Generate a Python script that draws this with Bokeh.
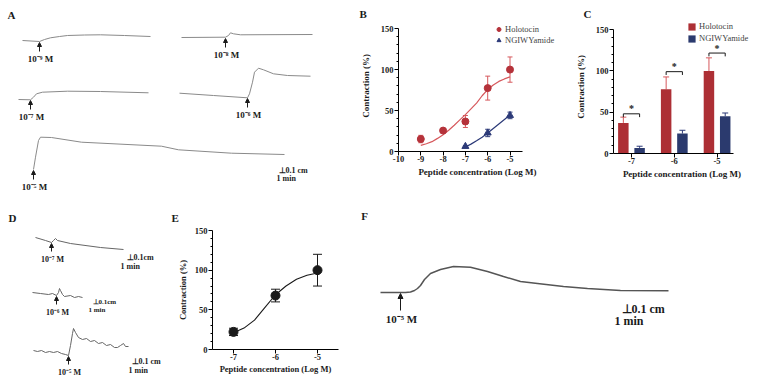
from bokeh.plotting import figure
from bokeh.layouts import row, column
from bokeh.models import (Range1d, ColumnDataSource, Arrow, NormalHead, Whisker, TeeHead,
                          FixedTicker, Legend, LegendItem, CustomJSTickFormatter)
from bokeh.core.properties import value
from bokeh.embed import file_html
from bokeh.resources import INLINE

SERIF = "Liberation Serif"
INK = "#1a1a1a"
HOLO = "#b5323a"
HOLO_LINE = "#d6585c"
NGIW = "#2c3a78"
HOLO_BAR = "#ad2f35"
NGIW_BAR = "#2b3a6e"

# ---------------- Panel B data ----------------
b_ticks = [-10, -9, -8, -7, -6, -5]
b_conc = [-9, -8, -7, -6, -5]
b_holo = [15.2, 25.5, 36.6, 77.3, 99.9]
b_holo_err = [4.5, 1.5, 7.3, 14.6, 15.4]
b_ngiw_conc = [-7, -6, -5]
b_ngiw = [6.2, 22.6, 44.0]
b_ngiw_err = [1.0, 4.5, 4.0]
b_holo_fit_x = [-9, -8.75, -8.5, -8.25, -8, -7.75, -7.5, -7.25, -7, -6.75, -6.5, -6.25, -6, -5.75, -5.5, -5.25, -5]
b_holo_fit_y = [7.5, 9.5, 12, 16, 20.5, 26, 32, 38.5, 45, 52, 59, 68, 75.5, 81, 85.5, 88.5, 91]
b_ngiw_fit_x = [-7, -6.75, -6.5, -6.25, -6, -5.75, -5.5, -5.25, -5]
b_ngiw_fit_y = [5.5, 9, 13, 17.5, 22.5, 28, 33.5, 39, 44.5]

# ---------------- Panel C data ----------------
c_conc = [-7, -6, -5]
c_holo = [37, 77.6, 99.7]
c_holo_err = [7, 15, 16]
c_ngiw = [6.8, 24.1, 45]
c_ngiw_err = [2, 4, 4]
c_sig = [48, 99, 121.5]

# ---------------- Panel E data ----------------
e_conc = [-7, -6, -5]
e_mean = [22.2, 68, 100]
e_err = [4.6, 8, 20]
e_fit_x = [-7, -6.75, -6.5, -6.25, -6, -5.75, -5.5, -5.25, -5]
e_fit_y = [21, 27, 37, 53, 69, 80, 88.5, 93.5, 96.4]

y_major = [0, 50, 100, 150]
y_minor = [10, 20, 30, 40, 60, 70, 80, 90, 110, 120, 130, 140]

# ---------------- Trace data (time offset px, deflection px; relative to injection) ----------------
a_labels = ["10⁻⁹ M", "10⁻⁸ M", "10⁻⁷ M", "10⁻⁶ M", "10⁻⁵ M"]
a_t = [
    [-17, 0, 5, 11, 20, 28, 45, 61, 85, 111],
    [-44, 0, 3, 5, 8, 15, 87],
    [-12, 0, 3, 6, 12, 37, 70, 118],
    [-68, -34, 0, 2, 5, 7, 11, 16, 26, 40, 63],
    [0, 2, 5, 7, 18, 48, 128, 145, 198, 251],
]
a_v = [
    [1, 0, 2, 3.7, 5, 6, 6.5, 6.7, 6, 5],
    [0, 0.3, 2, 4.7, 3.7, 2.7, 3],
    [0, -0.3, 2.3, 5.7, 7.3, 8.3, 8, 6.7],
    [4.3, 2, -0.3, 3.7, 15.3, 25.3, 29.3, 27.7, 23.7, 22, 21.3],
    [0, 12.3, 29, 32.3, 32, 27.3, 23.3, 19.7, 16.3, 15],
]
d_labels = ["10⁻⁷ M", "10⁻⁶ M", "10⁻⁵ M"]
d_t = [
    [-16, -6, 0, 2, 4, 6, 19, 49, 72],
    [-24, -16, -8, -4, 0, 2, 3, 4, 6, 8, 14, 18, 22, 26],
    [-35, -31, -27, -23, -19, -15, -11, -7, -3, 0, 2, 4, 5, 7, 10, 14, 18, 22, 26, 30, 34, 38, 42, 46, 49, 52, 55, 57, 60],
]
d_v = [
    [5, 2, 0, 2, 4, 2, -1, -5, -7],
    [3, 2, 1, 2, 0, 3, 7, 5, 1, -1, 0, -2, -1, -2],
    [5, 4, 5, 3, 4, 3, 4, 2, 1, 0, 10, 22, 27, 23, 18, 16, 17, 14, 15, 12, 13, 10, 11, 8, 8, 10, 12, 9, 9],
]
f_label = "10⁻⁵ M"
f_t = [-20, 0, 5, 10, 14, 17, 20, 24, 30, 40, 53, 70, 87, 103, 120, 137, 163, 187, 220, 268]
f_v = [0, 0, 0, 0.5, 2, 4, 7, 13, 19, 23, 26, 25.3, 21, 16, 11, 9, 6, 4, 2, 1.7]

# layout: injection points (px)
a_anchor = [(39, 41), (225, 37), (30, 99), (247, 97), (33, 169)]
d_anchor = [(51, 242), (56, 295), (68, 355)]
f_anchor = (400, 292)

ROW1 = 194
ROW2 = 182


def trace_fig(w, h, x0, x1, y0, y1):
    p = figure(width=w, height=h, x_range=Range1d(x0, x1), y_range=Range1d(y1, y0),
               output_backend="svg", toolbar_location=None, min_border=0,
               x_axis_type=None, y_axis_type=None, frame_align=False)
    p.grid.visible = False
    p.outline_line_color = None
    return p


def txt(p, xs, ys, texts, size, align="left", bold=True, color=INK):
    p.text(x=xs, y=ys, text=texts, text_font=value(SERIF), text_font_size=size,
           text_font_style="bold" if bold else "normal", text_align=align,
           text_baseline="middle", text_color=color)


def traces(p, ts, vs, anchors, labels, color, lw, lab_dy, tail_dy, lab_size, head):
    for t, v, (ax, ay) in zip(ts, vs, anchors):
        p.line([ax + ti for ti in t], [ay - vi for vi in v], line_color=color, line_width=lw)
    src = ColumnDataSource(dict(x=[a[0] for a in anchors],
                                y0=[a[1] + tail_dy for a in anchors],
                                y1=[a[1] + 1 for a in anchors]))
    p.add_layout(Arrow(source=src, x_start="x", y_start="y0", x_end="x", y_end="y1",
                       line_color=INK, line_width=1,
                       end=NormalHead(size=head, fill_color=INK, line_color=INK)))
    txt(p, [a[0] + 1 for a in anchors], [a[1] + lab_dy for a in anchors], labels, lab_size, align="center")


# ---------------- Panel A ----------------
pA = trace_fig(350, ROW1, 0, 350, 0, ROW1)
traces(pA, a_t, a_v, a_anchor, a_labels, "#8a8a8a", 1, 17, 10, "9px", 4)
txt(pA, [11], [14], ["A"], "11px", align="center")
txt(pA, [278, 276], [170, 177.5], ["⊥0.1 cm", "1 min"], "8px")

# ---------------- Panel D ----------------
pD = trace_fig(165, ROW2, 0, 165, ROW1, ROW1 + ROW2)
traces(pD, d_t, d_v, d_anchor, d_labels, "#666666", 1, 17, 9, "8px", 4)
txt(pD, [12], [217], ["D"], "11px", align="center")
txt(pD, [126, 120, 92, 88, 131, 128], [257, 266, 301, 309, 361, 370],
    ["⊥0.1cm", "1 min", "⊥0.1cm", "1 min", "⊥0.1 cm", "1 min"],
    ["8px", "8px", "7px", "7px", "8px", "8px"])

# ---------------- Panel F ----------------
pF = trace_fig(390, ROW2, 360, 750, ROW1, ROW1 + ROW2)
traces(pF, [f_t], [f_v], [f_anchor], [f_label], "#555555", 1.5, 26, 18, "11px", 5)
txt(pF, [364], [215], ["F"], "11px", align="center")
txt(pF, [621, 614], [308, 320], ["⊥0.1 cm", "1 min"], "12px")


def style_axes(p, xlab_size="9px", tick_size="8.5px", xstand=2, ystand=7):
    for ax in p.axis:
        ax.axis_line_color = "black"
        ax.major_tick_line_color = "black"
        ax.minor_tick_line_color = "black"
        ax.major_tick_out = 4
        ax.major_tick_in = 0
        ax.minor_tick_out = 2
        ax.minor_tick_in = 0
        ax.major_label_text_font = SERIF
        ax.major_label_text_font_style = "bold"
        ax.major_label_text_font_size = tick_size
        ax.major_label_text_color = INK
        ax.axis_label_text_font = SERIF
        ax.axis_label_text_font_style = "bold"
        ax.axis_label_text_font_size = xlab_size
        ax.axis_label_text_color = INK
        ax.formatter = CustomJSTickFormatter(code="return tick.toString();")
    p.xaxis.major_label_standoff = 0
    p.yaxis.major_label_standoff = 1
    p.xaxis.axis_label_standoff = xstand
    p.yaxis.axis_label_standoff = ystand
    p.xaxis.minor_tick_line_color = None
    p.yaxis.ticker = FixedTicker(ticks=y_major, minor_ticks=y_minor)
    p.yaxis.bounds = (0, 150)
    p.grid.visible = False
    p.outline_line_color = None


def letter(p, t, offset, standoff):
    p.title.text = t
    p.title.align = "left"
    p.title.offset = offset
    p.title.standoff = standoff
    p.title.text_font = SERIF
    p.title.text_font_style = "bold"
    p.title.text_font_size = "11px"
    p.title.text_color = INK


# ---------------- Panel B ----------------
# frame: x 398..556 px, y 20..151 px ; axis 0..150 spans 151..28 px, -10 at 398, 22.3 px per log unit
B_TOP, B_BOT, B_Y150 = 20, 151, 28
b_ymax = 150 + (B_Y150 - B_TOP) * 150 / (B_BOT - B_Y150)
pB = figure(width=210, height=ROW1, x_range=Range1d(-10, -10 + 158 / 22.3), y_range=Range1d(0, b_ymax),
            output_backend="svg", toolbar_location=None, frame_align=False,
            min_border_left=48, min_border_right=4, min_border_top=B_TOP, min_border_bottom=ROW1 - B_BOT,
            x_axis_label="Peptide concentration (Log M)", y_axis_label="Contraction (%)")
style_axes(pB)
pB.xaxis.ticker = FixedTicker(ticks=b_ticks)
pB.xaxis.bounds = (-10, -4.45)
pB.line(b_holo_fit_x, b_holo_fit_y, line_color=HOLO_LINE, line_width=1.2)
pB.line(b_ngiw_fit_x, b_ngiw_fit_y, line_color=NGIW, line_width=1.2)
srcBh = ColumnDataSource(dict(x=b_conc, y=b_holo,
                              lo=[m - e for m, e in zip(b_holo, b_holo_err)],
                              hi=[m + e for m, e in zip(b_holo, b_holo_err)]))
srcBn = ColumnDataSource(dict(x=b_ngiw_conc, y=b_ngiw,
                              lo=[m - e for m, e in zip(b_ngiw, b_ngiw_err)],
                              hi=[m + e for m, e in zip(b_ngiw, b_ngiw_err)]))
pB.add_layout(Whisker(source=srcBh, base="x", lower="lo", upper="hi", line_color=HOLO_LINE,
                      upper_head=TeeHead(size=5, line_color=HOLO_LINE),
                      lower_head=TeeHead(size=5, line_color=HOLO_LINE)))
pB.add_layout(Whisker(source=srcBn, base="x", lower="lo", upper="hi", line_color=NGIW,
                      upper_head=TeeHead(size=5, line_color=NGIW),
                      lower_head=TeeHead(size=5, line_color=NGIW)))
rBh = pB.scatter("x", "y", source=srcBh, marker="circle", size=7, fill_color=HOLO, line_color=HOLO)
rBn = pB.scatter("x", "y", source=srcBn, marker="triangle", size=7, fill_color=NGIW, line_color=NGIW)
pB.add_layout(Legend(items=[LegendItem(label="Holotocin", renderers=[rBh]),
                            LegendItem(label="NGIWYamide", renderers=[rBn])],
                     location=(95, 106), glyph_width=11, glyph_height=10, label_standoff=1,
                     padding=0, margin=0, spacing=1, border_line_color=None, background_fill_alpha=0,
                     label_text_font=SERIF, label_text_font_size="8.5px", label_height=10))
letter(pB, "B", -39, 1)

# ---------------- Panel C ----------------
# frame: x 613..750 px, y 20..153 px ; -7 at 631 px, 42.8 px per unit
C_TOP, C_BOT, C_Y150 = 20, 153, 29
c_ymax = 150 + (C_Y150 - C_TOP) * 150 / (C_BOT - C_Y150)
pC = figure(width=190, height=ROW1, x_range=Range1d(-7.42, -7.42 + 137 / 42.8), y_range=Range1d(0, c_ymax),
            output_backend="svg", toolbar_location=None, frame_align=False,
            min_border_left=53, min_border_right=0, min_border_top=C_TOP, min_border_bottom=ROW1 - C_BOT,
            x_axis_label="Peptide concentration (Log M)", y_axis_label="Contraction (%)")
style_axes(pC)
pC.xaxis.ticker = FixedTicker(ticks=c_conc)
pC.xaxis.bounds = (-7.42, -4.62)
xr = [c - 0.19 for c in c_conc]
xb = [c + 0.19 for c in c_conc]
rCh = pC.vbar(x=xr, top=c_holo, width=0.245, bottom=0, fill_color=HOLO_BAR, line_color=None)
rCn = pC.vbar(x=xb, top=c_ngiw, width=0.245, bottom=0, fill_color=NGIW_BAR, line_color=None)
srcCh = ColumnDataSource(dict(x=xr, lo=c_holo, hi=[m + e for m, e in zip(c_holo, c_holo_err)]))
srcCn = ColumnDataSource(dict(x=xb, lo=c_ngiw, hi=[m + e for m, e in zip(c_ngiw, c_ngiw_err)]))
pC.add_layout(Whisker(source=srcCh, base="x", lower="lo", upper="hi", line_color=HOLO_LINE,
                      upper_head=TeeHead(size=6, line_color=HOLO_LINE), lower_head=None))
pC.add_layout(Whisker(source=srcCn, base="x", lower="lo", upper="hi", line_color=NGIW,
                      upper_head=TeeHead(size=6, line_color=NGIW), lower_head=None))
pC.multi_line(xs=[[a, a, b, b] for a, b in zip(xr, xb)],
              ys=[[h - 4, h, h, h - 4] for h in c_sig], line_color=INK, line_width=1)
pC.text(x=c_conc, y=[h + 6 for h in c_sig], text=["*"] * 3, text_font=value(SERIF),
        text_font_size="10px", text_font_style="bold", text_align="center",
        text_baseline="middle", text_color=INK)
pC.add_layout(Legend(items=[LegendItem(label="Holotocin", renderers=[rCh]),
                            LegendItem(label="NGIWYamide", renderers=[rCn])],
                     location=(74, 110), glyph_width=9, glyph_height=9, label_standoff=3,
                     padding=0, margin=0, spacing=2, border_line_color=None, background_fill_alpha=0,
                     label_text_font=SERIF, label_text_font_size="8.5px", label_height=9))
letter(pC, "C", -30, 1)

# ---------------- Panel E ----------------
# frame: x 212..338 px, y 230..349 px
E_TOP, E_BOT = 230, 349
pE = figure(width=195, height=ROW2, x_range=Range1d(-7.5, -4.5), y_range=Range1d(0, 150),
            output_backend="svg", toolbar_location=None, frame_align=False,
            min_border_left=47, min_border_right=22, min_border_top=E_TOP - ROW1,
            min_border_bottom=ROW1 + ROW2 - E_BOT,
            x_axis_label="Peptide concentration (Log M)", y_axis_label="Contraction (%)")
style_axes(pE, xlab_size="8.5px", tick_size="8.5px", xstand=1, ystand=4)
pE.xaxis.ticker = FixedTicker(ticks=e_conc)
pE.line(e_fit_x, e_fit_y, line_color=INK, line_width=1.1)
srcE = ColumnDataSource(dict(x=e_conc, y=e_mean,
                             lo=[m - e for m, e in zip(e_mean, e_err)],
                             hi=[m + e for m, e in zip(e_mean, e_err)]))
pE.add_layout(Whisker(source=srcE, base="x", lower="lo", upper="hi", line_color=INK,
                      upper_head=TeeHead(size=9, line_color=INK),
                      lower_head=TeeHead(size=9, line_color=INK)))
pE.scatter("x", "y", source=srcE, marker="circle", size=9, fill_color=INK, line_color=INK)
letter(pE, "E", -41, 13)

layout = column(row(pA, pB, pC, spacing=0), row(pD, pE, pF, spacing=0), spacing=0)
open("out.html", "w").write(file_html(layout, INLINE))
